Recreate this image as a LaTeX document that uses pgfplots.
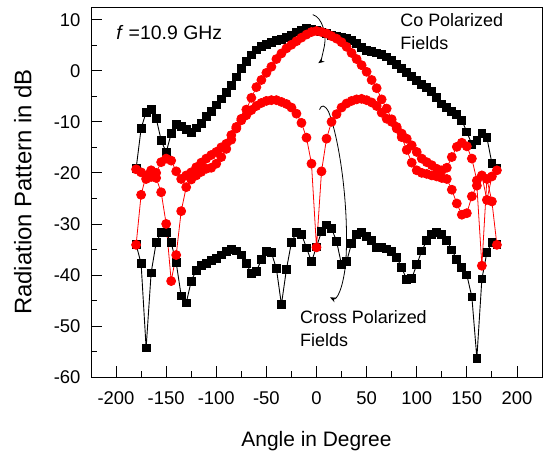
\documentclass[border=0pt]{standalone}
\usepackage{fontspec}
\setmainfont{Liberation Sans}
\usepackage{pgfplots}
\pgfplotsset{compat=1.18}
\usetikzlibrary{arrows.meta}

\pgfplotstableread{
x y
-180 -19.2
-175 -11.3
-170 -8.1
-165 -7.5
-160 -9.3
-155 -13.6
-150 -16.0
-145 -12.3
-140 -10.5
-135 -10.9
-130 -11.5
-125 -12.1
-120 -11.2
-115 -10.3
-110 -9.0
-105 -7.9
-100 -6.7
-95 -5.5
-90 -4.2
-85 -2.8
-80 -1.2
-75 0.5
-70 1.8
-65 3.1
-60 4.1
-55 4.7
-50 5.1
-45 5.5
-40 5.9
-35 6.2
-30 6.6
-25 7.0
-20 7.6
-15 7.9
-10 8.3
-5 8.2
0 8.0
5 7.6
10 7.3
15 7.0
20 6.7
25 6.5
30 6.3
35 6.0
40 5.3
45 4.5
50 4.0
55 3.8
60 3.5
65 3.2
70 2.7
75 2.0
80 1.2
85 0.4
90 -0.3
95 -1.1
100 -1.9
105 -2.6
110 -3.3
115 -4.1
120 -5.3
125 -6.5
130 -7.2
135 -7.9
140 -8.5
145 -9.7
150 -12.0
155 -14.4
160 -13.7
165 -12.3
170 -13.1
175 -18.1
180 -19.2
}\blackco

\pgfplotstableread{
x y
-180 -34.0
-175 -37.8
-170 -54.3
-165 -39.6
-160 -33.7
-155 -31.7
-150 -31.7
-145 -33.7
-140 -37.6
-135 -44.1
-130 -45.5
-125 -41.2
-120 -39.1
-115 -38.2
-110 -37.8
-105 -37.2
-100 -36.8
-95 -36.1
-90 -35.4
-85 -35.0
-80 -35.3
-75 -36.1
-70 -37.8
-65 -39.7
-60 -39.3
-55 -37.0
-50 -35.4
-45 -35.6
-40 -38.8
-35 -45.8
-30 -38.9
-25 -33.6
-20 -31.7
-15 -32.0
-10 -34.7
-5 -37.4
0 -34.5
5 -31.5
10 -30.2
15 -30.9
20 -33.4
25 -38.0
30 -37.4
35 -33.8
40 -32.0
45 -31.7
50 -32.5
55 -33.3
60 -34.6
65 -34.6
70 -34.9
75 -35.4
80 -36.5
85 -38.6
90 -40.9
95 -40.7
100 -38.0
105 -35.3
110 -33.3
115 -32.1
120 -31.7
125 -32.1
130 -33.2
135 -35.1
140 -37.0
145 -38.6
150 -40.0
155 -44.3
160 -56.3
165 -40.8
170 -35.6
175 -33.6
180 -34.0
}\blackx

\pgfplotstableread{
x y
-180 -34.1
-175 -24.3
-170 -20.5
-165 -20.8
-160 -21.0
-155 -23.8
-150 -30.0
-145 -41.2
-140 -36.1
-135 -27.5
-130 -22.8
-125 -21.3
-120 -20.5
-115 -19.8
-110 -19.2
-105 -19.0
-100 -18.2
-95 -16.9
-90 -15.3
-85 -13.5
-80 -11.3
-75 -9.4
-70 -7.6
-65 -5.3
-60 -3.2
-55 -1.8
-50 -0.4
-45 0.8
-40 2.3
-35 3.4
-30 4.4
-25 5.1
-20 5.8
-15 6.5
-10 7.1
-5 7.6
0 7.8
5 7.6
10 7.3
15 6.8
20 6.3
25 5.6
30 4.7
35 3.5
40 2.3
45 1.1
50 -0.2
55 -1.8
60 -3.4
65 -5.6
70 -7.4
75 -9.5
80 -11.3
85 -13.0
90 -15.5
95 -18.0
100 -19.5
105 -20.0
110 -20.2
115 -20.5
120 -20.7
125 -21.0
130 -21.2
135 -23.3
140 -26.0
145 -28.2
150 -27.9
155 -24.6
160 -22.5
165 -38.2
170 -21.2
175 -25.6
180 -34.1
}\redco

\pgfplotstableread{
x y
-180 -19.3
-175 -19.9
-170 -21.2
-165 -19.5
-160 -20.0
-155 -17.9
-150 -17.2
-145 -17.6
-140 -19.7
-135 -21.2
-130 -20.5
-125 -19.9
-120 -18.9
-115 -18.0
-110 -17.2
-105 -16.5
-100 -15.9
-95 -15.0
-90 -14.3
-85 -12.6
-80 -11.0
-75 -9.7
-70 -8.7
-65 -7.7
-60 -6.9
-55 -6.3
-50 -5.9
-45 -5.75
-40 -5.75
-35 -6.1
-30 -6.5
-25 -7.2
-20 -8.4
-15 -10.2
-10 -13.1
-5 -18.2
0 -34.6
5 -19.7
10 -13.3
15 -10.0
20 -8.5
25 -7.2
30 -6.4
35 -5.9
40 -5.6
45 -5.5
50 -5.75
55 -6.2
60 -6.9
65 -8.2
70 -9.4
75 -10.0
80 -11.0
85 -12.3
90 -13.3
95 -14.6
100 -15.9
105 -17.2
110 -17.9
115 -18.5
120 -19.2
125 -19.5
130 -19.0
135 -16.9
140 -14.9
145 -14.1
150 -14.8
155 -17.2
160 -21.5
165 -20.5
170 -25.3
175 -20.7
180 -19.5
}\redx

\begin{document}
\begin{tikzpicture}
\begin{axis}[
  name=ax,
  scale only axis, width=451bp, height=370bp,
  xmin=-225, xmax=225, ymin=-60, ymax=12.5,
  xtick={-200,-150,...,200}, ytick={-60,-50,...,10},
  minor x tick num=1, minor y tick num=1,
  tick align=inside, tick pos=left,
  major tick length=11bp, minor tick length=6bp,
  every tick/.style={black, line width=0.8pt},
  axis line style={line width=1pt},
  ticklabel style={font=\fontsize{18.5}{20}\selectfont},
  /pgf/number format/assume math mode=true,
  xticklabel shift=11bp, yticklabel shift=7bp,
  xlabel={Angle in Degree},
  ylabel={Radiation Pattern in dB},
  xlabel style={font=\fontsize{21}{24}\selectfont, at={(axis description cs:0.5,-0.173)}, anchor=center},
  ylabel style={font=\fontsize{24}{27}\selectfont, at={(axis description cs:-0.151,0.5)}, anchor=center},
  clip=false,
]
\addplot[black, line width=0.9pt, mark=square*, mark size=3.9bp] table {\blackco};
\addplot[black, line width=0.9pt, mark=square*, mark size=3.9bp] table {\blackx};
\addplot[red, line width=0.8pt, mark=*, mark size=4.5bp] table {\redco};
\addplot[red, line width=0.8pt, mark=*, mark size=4.5bp] table {\redx};

\node[anchor=west, font=\fontsize{19.5}{22}\selectfont, inner sep=0pt] at (axis cs:-200,7.45) {\textit{f} =10.9 GHz};
\node[anchor=west, font=\fontsize{18}{21}\selectfont, inner sep=0pt] at (axis cs:83.5,9.86) {Co Polarized};
\node[anchor=west, font=\fontsize{18}{21}\selectfont, inner sep=0pt] at (axis cs:83.5,5.4) {Fields};
\node[anchor=west, font=\fontsize{18}{21}\selectfont, inner sep=0pt] at (axis cs:-16.5,-48.2) {Cross Polarized};
\node[anchor=west, font=\fontsize{18}{21}\selectfont, inner sep=0pt] at (axis cs:-16.5,-52.7) {Fields};

\draw[black, line width=0.8pt, -{Stealth[length=6bp,width=5bp]}] (axis cs:-3.8,11.0) .. controls (axis cs:6,10.5) and (axis cs:10,7) .. (axis cs:8,5) .. controls (axis cs:6,3) and (axis cs:4,1.8) .. (axis cs:1.8,1.5);
\draw[black, line width=0.8pt, -{Stealth[length=6bp,width=5bp]}] (axis cs:3,-7.6) .. controls (axis cs:5,-6.6) and (axis cs:8,-6.6) .. (axis cs:12,-8) .. controls (axis cs:24,-14) and (axis cs:33,-28) .. (axis cs:29,-38) .. controls (axis cs:26,-43) and (axis cs:20,-45) .. (axis cs:13.5,-44.4);
\end{axis}
\pgfresetboundingbox
\path (ax.south west) ++(-91bp,-75bp) rectangle ([xshift=2bp,yshift=7bp]ax.north east);
\end{tikzpicture}
\end{document}
